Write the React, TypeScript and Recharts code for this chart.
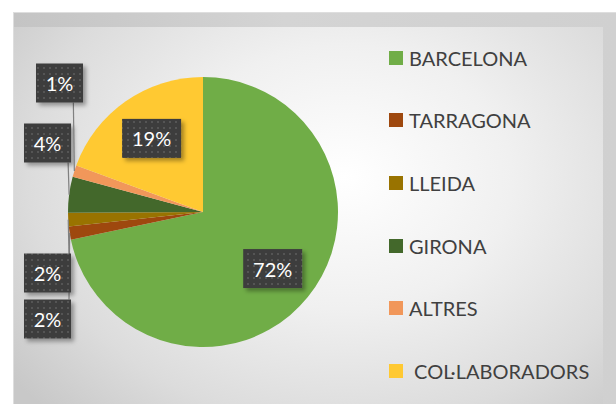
import { PieChart, Pie, Cell, Legend } from "recharts";

const categories = ["BARCELONA", "TARRAGONA", "LLEIDA", "GIRONA", "ALTRES", " COL·LABORADORS"];
const values = [71.7, 1.6, 1.6, 4.3, 1.4, 19.4];
const colors = ["#70ad47", "#9e480e", "#997300", "#43682b", "#f1975a", "#ffc932"];

const data = categories.map((name, i) => ({ name, value: values[i] }));

const RAD = Math.PI / 180;
const total = values.reduce((a, b) => a + b, 0);

// mid angle of every slice (degrees, recharts convention, clockwise from 12 o'clock)
const midAngles = values.map((v, i) => {
  const before = values.slice(0, i).reduce((a, b) => a + b, 0);
  return 90 - ((before + v / 2) / total) * 360;
});

function LabelBox({ x, y, text }: { x: number; y: number; text: string }) {
  const w = text.length === 2 ? 47 : 59;
  const h = 39;
  return (
    <g>
      <rect x={x - w / 2} y={y - h / 2} width={w} height={h} fill="url(#dots)" filter="url(#boxShadow)" />
      <text
        x={x}
        y={y}
        textAnchor="middle"
        dominantBaseline="central"
        fill="#ffffff"
        fontSize={20}
        fontFamily="Lato"
      >
        {text}
      </text>
    </g>
  );
}

const renderLabel = (props: any) => {
  const { cx, cy, midAngle, outerRadius, percent, index } = props;
  const text = `${Math.round(percent * 100)}%`;

  if (percent > 0.1) {
    const r = outerRadius * 0.665;
    const x = cx + r * Math.cos(-midAngle * RAD);
    const y = cy + r * Math.sin(-midAngle * RAD);
    return <LabelBox key={index} x={x} y={y} text={text} />;
  }

  // small slices: labels stacked in a column left of the pie
  const ey = cy + outerRadius * Math.sin(-midAngle * RAD);
  const ex = cx + outerRadius * Math.cos(-midAngle * RAD);
  const below = ey > cy;
  const sameSide = midAngles
    .map((a, i) => ({ i, d: Math.sin(-a * RAD), small: values[i] / total < 0.1 }))
    .filter((o) => o.small && o.d > 0 === below)
    .sort((a, b) => Math.abs(a.d) - Math.abs(b.d));
  const rank = sameSide.findIndex((o) => o.i === index);
  const w = text.length === 2 ? 47 : 59;
  const bx = cx - outerRadius - 20.5 + (below ? 0 : rank * 12);
  const by = below ? cy + 61 + rank * 46 : cy - 69 - rank * 60;
  const lx = below ? bx + w / 2 - 2 : Math.min(ex, bx + w / 2 + 2) - 1;
  const ly = below ? by - 19.5 : by + 19.5;

  return (
    <g key={index}>
      <line x1={ex} y1={ey} x2={lx} y2={ly} stroke="#808080" strokeWidth={1.2} />
      <LabelBox x={bx} y={by} text={text} />
    </g>
  );
};

const renderLegend = (props: any) => {
  const items = [...(props.payload || [])].sort(
    (a: any, b: any) => categories.indexOf(a.value) - categories.indexOf(b.value)
  );
  return (
    <div style={{ fontFamily: "Lato" }}>
      {items.map((entry: any, i: number) => (
        <div key={i} style={{ height: 62.6, display: "flex", alignItems: "center" }}>
          <span style={{ width: 14, height: 14, background: entry.color, display: "inline-block" }} />
          <span style={{ marginLeft: 6, fontSize: 20, color: "#404040", whiteSpace: "pre" }}>{entry.value}</span>
        </div>
      ))}
    </div>
  );
};

export default function App() {
  return (
    <div style={{ position: "absolute", left: 0, top: 0, width: 616, height: 404, background: "#ffffff", overflow: "hidden" }}>
      <div
        style={{
          position: "absolute",
          left: 13,
          top: 12,
          width: 603,
          height: 392,
          background: "linear-gradient(90deg, #c4c4c4 0%, #d4d4d4 45%, #d0d0d0 100%)",
          borderTop: "1px solid #dedede",
          borderLeft: "1px solid #dedede",
          boxSizing: "border-box",
        }}
      />
      <div
        style={{
          position: "absolute",
          left: 14,
          top: 27,
          width: 589,
          height: 377,
          background: "radial-gradient(ellipse 420px 330px at 330px 150px, #ffffff 0%, #f0f0f0 40%, #dcdcdc 75%, #c8c8c8 100%)",
        }}
      />
      <div style={{ position: "absolute", left: 0, top: 0 }}>
        <PieChart width={616} height={404} margin={{ top: 0, right: 0, bottom: 0, left: 0 }}>
          <defs>
            <pattern id="dots" width="6" height="6" patternUnits="userSpaceOnUse">
              <rect width="6" height="6" fill="#3c3c3c" />
              <rect x="1" y="1" width="2" height="2" fill="#545454" />
            </pattern>
            <filter id="boxShadow" x="-20%" y="-20%" width="150%" height="150%">
              <feDropShadow dx="3" dy="3" stdDeviation="2" floodColor="#000000" floodOpacity="0.35" />
            </filter>
          </defs>
          <Pie
            data={data}
            dataKey="value"
            nameKey="name"
            cx={203}
            cy={212}
            outerRadius={135}
            startAngle={90}
            endAngle={-270}
            stroke="none"
            labelLine={false}
            label={renderLabel}
            isAnimationActive={false}
          >
            {data.map((d, i) => (
              <Cell key={d.name} fill={colors[i]} />
            ))}
          </Pie>
          <Legend
            layout="vertical"
            align="right"
            verticalAlign="top"
            content={renderLegend}
            wrapperStyle={{ left: 389, top: 26.5, width: 220 }}
          />
        </PieChart>
      </div>
    </div>
  );
}
